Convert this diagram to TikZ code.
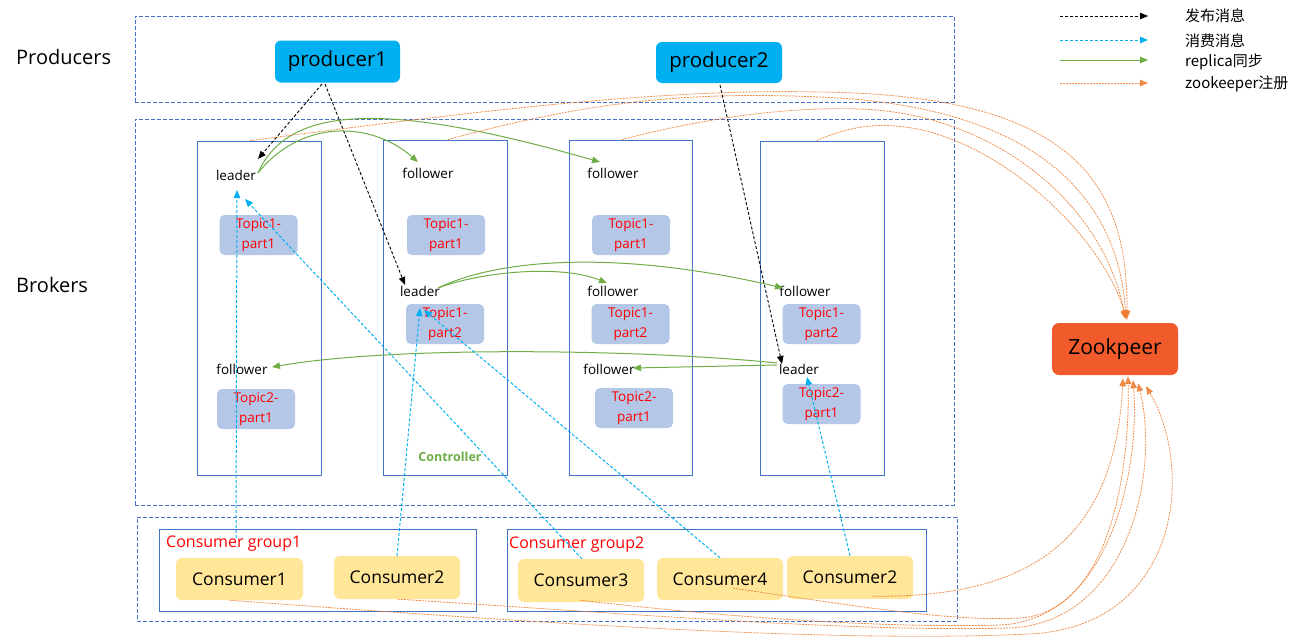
\documentclass[tikz,border=0pt]{standalone}
\usepackage{fontspec}
\setmainfont{Open Sans}
\newfontfamily\cjk{Noto Sans CJK SC}
\usetikzlibrary{arrows.meta}
\definecolor{bline}{HTML}{4472C4}
\definecolor{prodfill}{HTML}{00B0F0}
\definecolor{topicfill}{HTML}{B4C7E7}
\definecolor{consfill}{HTML}{FFE699}
\definecolor{zkfill}{HTML}{F15A2B}
\definecolor{repgreen}{HTML}{70AD47}
\definecolor{subcyan}{HTML}{00B0F0}
\definecolor{zkorange}{HTML}{ED7D31}
\definecolor{txtred}{HTML}{FF0000}
\tikzset{
  outerbox/.style={draw=bline, line width=0.9pt, dash pattern=on 4pt off 2pt, inner sep=0},
  broker/.style={draw=bline, line width=0.9pt, inner sep=0},
  grpbox/.style={draw=bline, line width=0.9pt, inner sep=0},
  topicbox/.style={fill=topicfill, rounded corners=5pt, minimum width=78pt, minimum height=40pt, inner sep=0, align=center, text=txtred, font=\fontsize{13.5}{20}\selectfont},
  role/.style={inner sep=0, font=\fontsize{13.5}{16}\selectfont},
  prodbox/.style={fill=prodfill, rounded corners=6pt, minimum width=125pt, minimum height=42pt, inner sep=0, font=\fontsize{20.5}{24}\selectfont},
  consbox/.style={fill=consfill, rounded corners=6pt, minimum width=126pt, minimum height=42pt, inner sep=0, font=\fontsize{17.5}{20}\selectfont},
  grplabel/.style={inner sep=0, anchor=west, text=txtred, font=\fontsize{16}{18}\selectfont},
  sectlabel/.style={inner sep=0, anchor=west, font=\fontsize{20}{24}\selectfont},
  legtext/.style={inner sep=0, anchor=west, font=\cjk\fontsize{15}{18}\selectfont},
  tipshape/.style={-{Triangle[length=8pt,width=6.5pt]}},
  pubarrow/.style={tipshape, draw=black, line width=0.9pt, dash pattern=on 3pt off 2pt},
  subarrow/.style={tipshape, draw=subcyan, line width=1pt, dash pattern=on 3pt off 2pt},
  reparrow/.style={tipshape, draw=repgreen, line width=1pt},
  zkarrow/.style={tipshape, draw=zkorange, line width=0.8pt, dash pattern=on 2pt off 1pt, opacity=0.85},
}
\begin{document}
\begin{tikzpicture}[x=1pt,y=-1pt]
\useasboundingbox[fill=white] (0,0) rectangle (1295,640);

% section labels
\node[sectlabel] (lprod) at (16,57) {Producers};
\node[sectlabel] (lbrok) at (16,285) {Brokers};

% outer dashed boxes
\node[outerbox, minimum width=819pt, minimum height=86pt] (prodarea) at (544.5,59) {};
\node[outerbox, minimum width=819pt, minimum height=386pt] (brokarea) at (544.5,312) {};
\node[outerbox, minimum width=820pt, minimum height=104pt] (consarea) at (547,569) {};

% brokers
\node[broker, minimum width=124pt, minimum height=334pt] (b1) at (259,308) {};
\node[broker, minimum width=124pt, minimum height=335pt] (b2) at (445,307.5) {};
\node[broker, minimum width=123pt, minimum height=335pt] (b3) at (630.5,307.5) {};
\node[broker, minimum width=124pt, minimum height=334pt] (b4) at (822,308) {};

% topic boxes
\node[topicbox] (t1a) at (258.5,235) {Topic1-\\part1};
\node[topicbox] (t1b) at (256,409) {Topic2-\\part1};
\node[topicbox] (t2a) at (446,235) {Topic1-\\part1};
\node[topicbox] (t2b) at (445,324) {Topic1-\\part2};
\node[topicbox] (t3a) at (631,235) {Topic1-\\part1};
\node[topicbox] (t3b) at (630.5,324) {Topic1-\\part2};
\node[topicbox] (t3c) at (634,408) {Topic2-\\part1};
\node[topicbox] (t4b) at (821.5,324) {Topic1-\\part2};
\node[topicbox] (t4c) at (821.5,404) {Topic2-\\part1};

% role labels
\node[role] (l1) at (236,175) {leader};
\node[role] (f1) at (242,369) {follower};
\node[role] (f2) at (428,173) {follower};
\node[role] (l2) at (420,291) {leader};
\node[role] (f3a) at (613,173) {follower};
\node[role] (f3b) at (613,291) {follower};
\node[role] (f3c) at (609,369) {follower};
\node[role] (f4) at (805,291) {follower};
\node[role] (l4) at (799,369) {leader};
\node[inner sep=0, text=repgreen, font=\bfseries\fontsize{12.5}{15}\selectfont] (ctrl) at (450,457) {Controller};

% producers
\node[prodbox] (p1) at (337.5,61.5) {producer1};
\node[prodbox, minimum width=126pt, minimum height=41pt] (p2) at (719,62.5) {producer2};

% consumer groups
\node[grpbox, minimum width=317pt, minimum height=82pt] (g1) at (317.5,570) {};
\node[grpbox, minimum width=419pt, minimum height=82pt] (g2) at (716.5,570) {};
\node[consbox, minimum width=127pt] (c1) at (239.5,579) {Consumer1};
\node[consbox, minimum height=43pt] (c2) at (397,577.5) {Consumer2};
\node[consbox, minimum height=43pt] (c3) at (581,580.5) {Consumer3};
\node[consbox] (c4) at (720,579) {Consumer4};
\node[consbox, minimum height=43pt] (c5) at (850,577.5) {Consumer2};
\node[grplabel] (g1l) at (166,544) {Consumer group1};
\node[grplabel] (g2l) at (509,545) {Consumer group2};
\coordinate (c1src) at (236,538);

% zookeeper
\node[fill=zkfill, rounded corners=7pt, minimum width=126pt, minimum height=52pt, inner sep=0, font=\fontsize{21}{24}\selectfont] (zk) at (1115,349) {Zookpeer};

% publish arrows
\draw[pubarrow] ([shift={(-15.5,22.5)}]p1.center) -- ([shift={(22,-16)}]l1.center);
\draw[pubarrow] ([shift={(-12.5,22.5)}]p1.center) -- ([shift={(-15,-6)}]l2.center);
\draw[pubarrow] ([shift={(1,22.5)}]p2.center) -- ([shift={(-17,-5)}]l4.center);

% replica arrows
\draw[reparrow] ([shift={(22,-2)}]l1.center) .. controls (300,120) and (370,120) .. ([shift={(-10,-11)}]f2.center);
\draw[reparrow] ([shift={(22,-2)}]l1.center) .. controls (290,100) and (400,105) .. ([shift={(-13,-11)}]f3a.center);
\draw[reparrow] ([shift={(18,-3)}]l2.center) .. controls (480,272) and (560,264) .. ([shift={(-6,-8)}]f3b.center);
\draw[reparrow] ([shift={(18,-3)}]l2.center) .. controls (500,258) and (620,250) .. ([shift={(-22,-3)}]f4.center);
\draw[reparrow] ([shift={(-22,-6)}]l4.center) .. controls (650,350) and (400,345) .. ([shift={(30,-2)}]f1.center);
\draw[reparrow] ([shift={(-22,-4)}]l4.center) -- ([shift={(24,-1)}]f3c.center);

% consume arrows
\draw[subarrow] (c1src) -- ([shift={(1,15)}]l1.center);
\draw[subarrow] ([shift={(1,0)}]c3.north) -- ([shift={(9,24)}]l1.center);
\draw[subarrow] (c2.north) -- ([shift={(0,17)}]l2.center);
\draw[subarrow] (c4.north) -- ([shift={(4,19)}]l2.center);
\draw[subarrow] (c5.north) -- ([shift={(8,8)}]l4.center);

% zookeeper registration (brokers)
\draw[zkarrow] ([shift={(-9,0)}]b1.north) .. controls (450,115) and (650,88) .. (820,92) .. controls (1070,95) and (1128,180) .. ([shift={(12,-4)}]zk.north);
\draw[zkarrow] ([shift={(3,0)}]b2.north) .. controls (600,98) and (700,92) .. (820,97) .. controls (1040,106) and (1118,200) .. ([shift={(11,-5)}]zk.north);
\draw[zkarrow] ([shift={(-8.5,0)}]b3.north) .. controls (720,114) and (800,107) .. (860,109) .. controls (1000,114) and (1106,210) .. ([shift={(10,-4)}]zk.north);
\draw[zkarrow] ([shift={(-5,0)}]b4.north) .. controls (845,128) and (870,124) .. (895,126) .. controls (990,132) and (1100,230) .. ([shift={(12,-3)}]zk.north);

% zookeeper registration (consumers)
\draw[zkarrow] ([shift={(23,-3)}]c5.south) .. controls (1030,598) and (1115,540) .. ([shift={(8,3)}]zk.south);
\draw[zkarrow] ([shift={(13,-12)}]c4.south) .. controls (850,605) and (950,622) .. (1020,618) .. controls (1110,612) and (1130,470) .. ([shift={(13,1)}]zk.south);
\draw[zkarrow] ([shift={(-1,-2)}]c3.south) .. controls (750,620) and (900,628) .. (1000,625) .. controls (1110,620) and (1140,470) .. ([shift={(18,5)}]zk.south);
\draw[zkarrow] ([shift={(1,0)}]c2.south) .. controls (650,615) and (850,632) .. (1010,628) .. controls (1130,622) and (1160,470) .. ([shift={(23,8)}]zk.south);
\draw[zkarrow] ([shift={(-10,0)}]c1.south) .. controls (600,628) and (850,642) .. (1030,634) .. controls (1180,626) and (1195,470) .. ([shift={(31,11)}]zk.south);

% legend
\coordinate (lg1a) at (1060,16); \coordinate (lg1b) at (1148,16);
\coordinate (lg2a) at (1060,40); \coordinate (lg2b) at (1148,40);
\coordinate (lg3a) at (1060,60); \coordinate (lg3b) at (1148,60);
\coordinate (lg4a) at (1060,83); \coordinate (lg4b) at (1148,83);
\draw[pubarrow] (lg1a) -- (lg1b);
\draw[subarrow] (lg2a) -- (lg2b);
\draw[reparrow] (lg3a) -- (lg3b);
\draw[zkarrow] (lg4a) -- (lg4b);
\node[legtext] (lt1) at (1185,16) {发布消息};
\node[legtext] (lt2) at (1185,41) {消费消息};
\node[legtext] (lt3) at (1185,62) {replica同步};
\node[legtext] (lt4) at (1185,84) {zookeeper注册};
\end{tikzpicture}
\end{document}
